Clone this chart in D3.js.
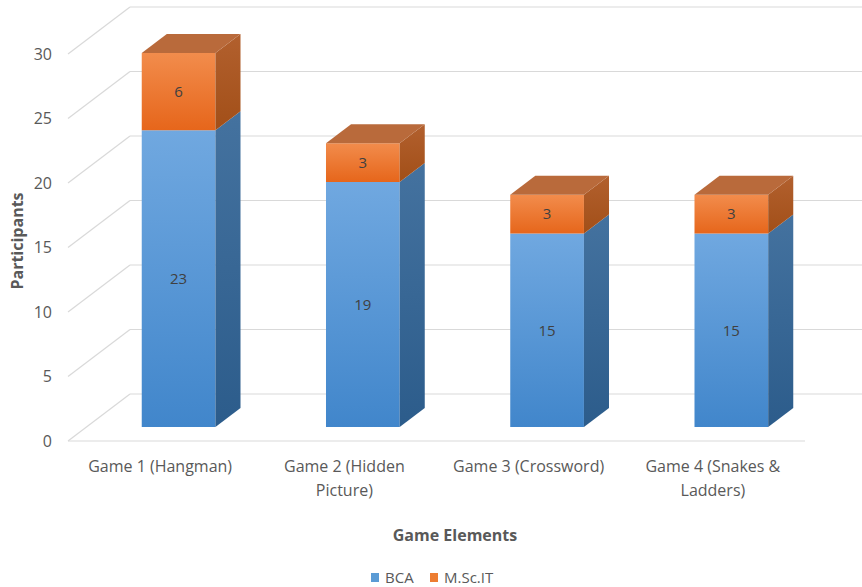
<!DOCTYPE html>
<html><head><meta charset="utf-8">
<script src="https://cdn.jsdelivr.net/npm/d3@7"></script>
<style>
html,body{margin:0;padding:0;background:#fff;}
svg{display:block;font-family:"Open Sans",sans-serif;}
</style></head>
<body><svg id="c" width="862" height="587"></svg>
<script>
const categories = ["Game 1 (Hangman)", "Game 2 (Hidden Picture)", "Game 3 (Crossword)", "Game 4 (Snakes & Ladders)"];
const categoryLines = [["Game 1 (Hangman)"], ["Game 2 (Hidden", "Picture)"], ["Game 3 (Crossword)"], ["Game 4 (Snakes &", "Ladders)"]];
const seriesNames = ["BCA", "M.Sc.IT"];
const bca = [23, 19, 15, 15];
const msc = [6, 3, 3, 3];
const yTicks = [0, 5, 10, 15, 20, 25, 30];

const svg = d3.select("#c");
const x = d3.scaleBand().domain(categories).range([68, 805]).paddingInner(0).paddingOuter(0);
const y = d3.scaleLinear().domain([0, 30]).range([441, 54]);
const DX = 62, DY = 47; // full depth offset
const zF = 14/47, zB = 33/47; // bar front/back depth
const px = (xv, z) => xv + z*DX;
const py = (v, z) => y(v) - z*DY;
const barW = x.bandwidth()*0.40;
const barOff = (x.bandwidth()-barW)/2;

const defs = svg.append("defs");
function grad(id, c1, c2){
  const g = defs.append("linearGradient").attr("id", id).attr("x1",0).attr("y1",0).attr("x2",0).attr("y2",1);
  g.append("stop").attr("offset","0%").attr("stop-color",c1);
  g.append("stop").attr("offset","100%").attr("stop-color",c2);
}
grad("bFront", "#70a8e0", "#4186cb");
grad("bSide", "#44729f", "#2c5c8b");
grad("oFront", "#f28c4c", "#e6661b");
grad("oSide", "#b2602e", "#a24f18");

const grid = svg.append("g").attr("stroke", "#d9d9d9").attr("stroke-width", 1.2).attr("fill", "none");
yTicks.forEach(t => {
  grid.append("line").attr("x1", 68).attr("y1", y(t)).attr("x2", 68+DX).attr("y2", y(t)-DY);
  grid.append("line").attr("x1", 68+DX).attr("y1", y(t)-DY).attr("x2", 805+DX).attr("y2", y(t)-DY);
});
grid.append("line").attr("x1", 68).attr("y1", y(0)).attr("x2", 805).attr("y2", y(0));

// tick labels
svg.append("g").selectAll("text").data(yTicks).join("text")
  .attr("x", 52).attr("y", d => y(d)).attr("dy", "0.35em").attr("text-anchor", "end")
  .attr("font-size", 16).attr("fill", "#595959").text(d => d);

const poly = pts => "M" + pts.map(p => p.join(",")).join("L") + "Z";

const stacks = categories.map((c, i) => ({c, segs: [
  {v0: 0, v1: bca[i], front: "url(#bFront)", side: "url(#bSide)", val: bca[i]},
  {v0: bca[i], v1: bca[i]+msc[i], front: "url(#oFront)", side: "url(#oSide)", val: msc[i]}
]}));

const bars = svg.append("g");
stacks.forEach(s => {
  const xl = x(s.c) + barOff, xr = xl + barW;
  s.segs.forEach((g, j) => {
    bars.append("path").attr("d", poly([[px(xl,zF), py(g.v1,zF)], [px(xr,zF), py(g.v1,zF)], [px(xr,zF), py(g.v0,zF)], [px(xl,zF), py(g.v0,zF)]])).attr("fill", g.front);
    bars.append("path").attr("d", poly([[px(xr,zF), py(g.v1,zF)], [px(xr,zB), py(g.v1,zB)], [px(xr,zB), py(g.v0,zB)], [px(xr,zF), py(g.v0,zF)]])).attr("fill", g.side);
    if (j === s.segs.length-1) {
      bars.append("path").attr("d", poly([[px(xl,zF), py(g.v1,zF)], [px(xr,zF), py(g.v1,zF)], [px(xr,zB), py(g.v1,zB)], [px(xl,zB), py(g.v1,zB)]])).attr("fill", "#b96a3b");
    }
    bars.append("text").attr("x", px((xl+xr)/2, zF)).attr("y", (py(g.v0,zF)+py(g.v1,zF))/2)
      .attr("dy", "0.35em").attr("text-anchor", "middle").attr("font-size", 15).attr("fill", "#404040").text(g.val);
  });
});

// category labels
const cat = svg.append("g");
categories.forEach((c, i) => {
  const cx = x(c) + x.bandwidth()/2;
  const t = cat.append("text").attr("x", cx).attr("y", 472).attr("text-anchor", "middle")
    .attr("font-size", 16).attr("fill", "#595959");
  categoryLines[i].forEach((l, k) => t.append("tspan").attr("x", cx).attr("dy", k ? 24 : 0).text(l));
});

svg.append("text").attr("transform", "translate(23,241) rotate(-90)").attr("text-anchor", "middle")
  .attr("font-size", 16).attr("font-weight", "bold").attr("fill", "#595959").text("Participants");
svg.append("text").attr("x", 455).attr("y", 541).attr("text-anchor", "middle")
  .attr("font-size", 16).attr("font-weight", "bold").attr("fill", "#595959").text("Game Elements");

const leg = svg.append("g");
const legColors = ["#5b9bd5", "#ed7d31"];
const legX = [371, 430];
seriesNames.forEach((n, i) => {
  leg.append("rect").attr("x", legX[i]).attr("y", 573).attr("width", 8).attr("height", 9).attr("fill", legColors[i]);
  leg.append("text").attr("x", legX[i]+14).attr("y", 578).attr("dy", "0.35em").attr("font-size", 15).attr("fill", "#595959").text(n);
});
</script></body></html>
